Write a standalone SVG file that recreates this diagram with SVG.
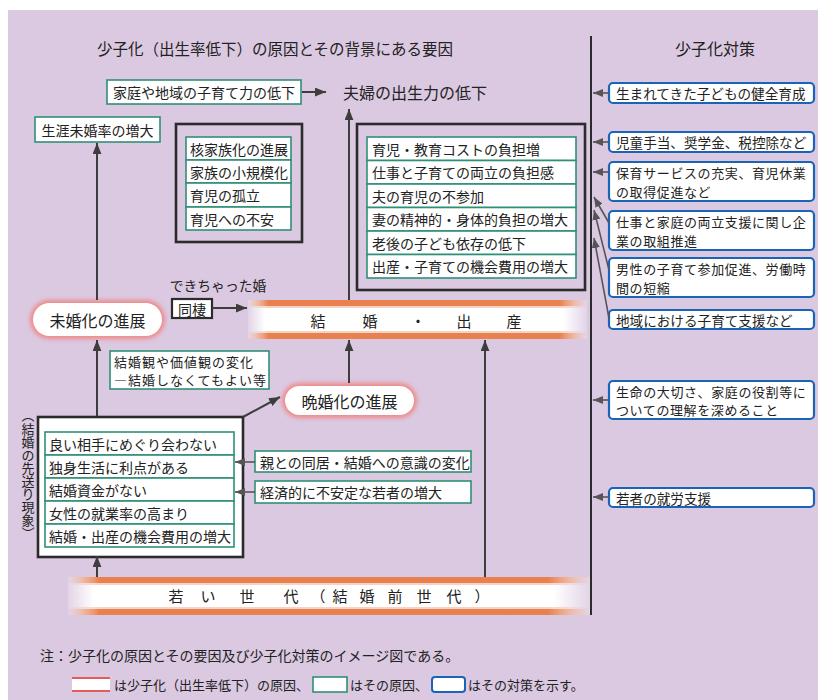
<svg xmlns="http://www.w3.org/2000/svg" width="818" height="700" viewBox="0 0 818 700">
<defs>
<style>
text{font-family:"Noto Sans CJK JP","Noto Sans CJK SC",sans-serif;fill:#222;dominant-baseline:central}
.t14{font-size:14px}
.t13{font-size:13.6px}
.m2{font-size:13px;letter-spacing:0.6px}
.g{fill:#fff;stroke:#2f8f78;stroke-width:1.6}
.b{fill:#fff;stroke:#1a64b8;stroke-width:2.2}
.k{fill:none;stroke:#2b2b2b;stroke-width:2.6}
.ar{fill:none;stroke:#3d3d3d;stroke-width:2;marker-end:url(#ah)}
.sh{fill:none;stroke:#555;stroke-width:1.6;marker-end:url(#ah2)}
</style>
<marker id="ah" viewBox="0 0 10 8" refX="10" refY="4" markerWidth="11" markerHeight="9" markerUnits="userSpaceOnUse" orient="auto"><path d="M0,0 L10,4 L0,8 z" fill="#3d3d3d"/></marker>
<marker id="ah2" viewBox="0 0 10 8" refX="10" refY="4" markerWidth="10" markerHeight="8" markerUnits="userSpaceOnUse" orient="auto"><path d="M0,0 L10,4 L0,8 z" fill="#555"/></marker>
<linearGradient id="orH" x1="0" y1="0" x2="1" y2="0">
<stop offset="0" stop-color="#e8814f" stop-opacity="0"/>
<stop offset="0.06" stop-color="#e8814f" stop-opacity="1"/>
<stop offset="0.92" stop-color="#e8814f" stop-opacity="1"/>
<stop offset="1" stop-color="#e8814f" stop-opacity="0"/>
</linearGradient>
<linearGradient id="whH" x1="0" y1="0" x2="1" y2="0">
<stop offset="0" stop-color="#fff" stop-opacity="0.2"/>
<stop offset="0.05" stop-color="#fff" stop-opacity="1"/>
<stop offset="0.93" stop-color="#fff" stop-opacity="1"/>
<stop offset="1" stop-color="#fff" stop-opacity="0.2"/>
</linearGradient>
<filter id="glow" x="-20%" y="-40%" width="140%" height="180%"><feGaussianBlur stdDeviation="2"/></filter>
</defs>

<rect x="0" y="0" width="818" height="700" fill="#fff"/>
<rect x="8" y="10" width="810" height="690" fill="#dbc9e1"/>

<g id="titles">
<text x="97" y="48" style="font-size:15.5px">少子化（出生率低下）の原因とその背景にある要因</text>
<text x="715" y="48" text-anchor="middle" style="font-size:16px">少子化対策</text>
</g>

<g id="divider"><line x1="591" y1="36" x2="591" y2="615" stroke="#2b2b2b" stroke-width="2"/></g>

<g id="n-kateichiiki">
<rect class="g" x="107" y="80" width="194" height="24"/>
<text class="t14" x="204" y="92" text-anchor="middle">家庭や地域の子育て力の低下</text>
</g>
<g id="n-fufu">
<text x="343" y="92" style="font-size:16px">夫婦の出生力の低下</text>
</g>
<g id="n-shogai">
<rect class="g" x="35" y="117" width="125" height="25"/>
<text class="t14" x="97.5" y="129.5" text-anchor="middle">生涯未婚率の増大</text>
</g>

<g id="n-kazoku">
<rect class="k" x="176" y="124" width="126" height="118"/>
<rect class="g" x="186" y="137" width="105" height="23"/>
<rect class="g" x="186" y="160" width="105" height="23"/>
<rect class="g" x="186" y="183" width="105" height="24"/>
<rect class="g" x="186" y="207" width="105" height="23"/>
<text class="t14" x="190" y="148.5">核家族化の進展</text>
<text class="t14" x="190" y="171.5">家族の小規模化</text>
<text class="t14" x="190" y="195">育児の孤立</text>
<text class="t14" x="190" y="218.5">育児への不安</text>
</g>

<g id="n-futan">
<rect class="k" x="357" y="124" width="228" height="166"/>
<rect class="g" x="367" y="137" width="209" height="23.5"/>
<rect class="g" x="367" y="160.5" width="209" height="23.5"/>
<rect class="g" x="367" y="184" width="209" height="23.5"/>
<rect class="g" x="367" y="207.5" width="209" height="23.5"/>
<rect class="g" x="367" y="231" width="209" height="23.5"/>
<rect class="g" x="367" y="254.5" width="209" height="23.5"/>
<text class="t14" x="372" y="148.7">育児・教育コストの負担増</text>
<text class="t14" x="372" y="172.2">仕事と子育ての両立の負担感</text>
<text class="t14" x="372" y="195.7">夫の育児の不参加</text>
<text class="t14" x="372" y="219.2">妻の精神的・身体的負担の増大</text>
<text class="t14" x="372" y="242.7">老後の子ども依存の低下</text>
<text class="t14" x="372" y="266.2">出産・子育ての機会費用の増大</text>
</g>

<g id="n-mikonka">
<rect x="30" y="300" width="135" height="39" rx="19.5" fill="#ee8a8a" filter="url(#glow)"/>
<rect x="33" y="303" width="129" height="33" rx="16.5" fill="#fff"/>
<text x="97.5" y="319.5" text-anchor="middle" style="font-size:16px">未婚化の進展</text>
</g>

<g id="n-dekichatta">
<text x="218" y="285" text-anchor="middle" style="font-size:13.8px">できちゃった婚</text>
<rect x="172" y="299" width="40" height="19" fill="#fff" stroke="#2b2b2b" stroke-width="2.2"/>
<text class="t14" x="192" y="308.5" text-anchor="middle">同棲</text>
</g>

<g id="n-kekkon">
<rect x="248" y="300" width="339" height="39" fill="url(#whH)"/>
<rect x="248" y="300" width="339" height="6" fill="url(#orH)"/>
<rect x="248" y="306" width="339" height="2" fill="url(#orH)" opacity="0.35"/>
<rect x="248" y="333" width="339" height="6" fill="url(#orH)"/>
<rect x="248" y="331" width="339" height="2" fill="url(#orH)" opacity="0.35"/>
<text x="318 370 418 464 514" y="320" text-anchor="middle" style="font-size:15px">結婚・出産</text>
</g>

<g id="n-kachikan">
<rect class="g" x="110" y="351" width="159" height="38"/>
<text style="font-size:13px;letter-spacing:1px"><tspan x="114" y="360.5">結婚観や価値観の変化</tspan><tspan x="114" y="379">―結婚しなくてもよい等</tspan></text>
</g>

<g id="n-bankonka">
<rect x="282" y="383" width="135" height="35" rx="17.5" fill="#ee8a8a" filter="url(#glow)"/>
<rect x="285" y="386" width="129" height="29" rx="14.5" fill="#fff"/>
<text x="349.5" y="400.5" text-anchor="middle" style="font-size:16px">晩婚化の進展</text>
</g>

<g id="n-sakiokuri">
<text x="28 28 28 28 28 28 28 28 28 28" y="414 428 441 454 467 480 493 506 519 532" text-anchor="middle" style="font-size:13px">︵結婚の先送り現象︶</text>
</g>

<g id="n-riyu">
<rect x="38" y="417" width="205" height="140" fill="#fff" stroke="#2b2b2b" stroke-width="2.6"/>
<rect class="g" x="45" y="432" width="189" height="23"/>
<rect class="g" x="45" y="455" width="189" height="23"/>
<rect class="g" x="45" y="478" width="189" height="23"/>
<rect class="g" x="45" y="501" width="189" height="23"/>
<rect class="g" x="45" y="524" width="189" height="23"/>
<text class="t14" x="49" y="443.5">良い相手にめぐり会わない</text>
<text class="t14" x="49" y="466.5">独身生活に利点がある</text>
<text class="t14" x="49" y="489.5">結婚資金がない</text>
<text class="t14" x="49" y="512.5">女性の就業率の高まり</text>
<text class="t14" x="49" y="535.5">結婚・出産の機会費用の増大</text>
</g>

<g id="n-oya">
<rect class="g" x="255" y="451" width="216" height="21"/>
<text class="t14" x="260" y="461.5">親との同居・結婚への意識の変化</text>
</g>
<g id="n-keizai">
<rect class="g" x="255" y="481" width="216" height="22"/>
<text class="t14" x="260" y="492">経済的に不安定な若者の増大</text>
</g>

<g id="n-wakai">
<rect x="68" y="577" width="522" height="38" fill="url(#whH)"/>
<rect x="68" y="577" width="522" height="6" fill="url(#orH)"/>
<rect x="68" y="583" width="522" height="2" fill="url(#orH)" opacity="0.35"/>
<rect x="68" y="609" width="522" height="6" fill="url(#orH)"/>
<rect x="68" y="607" width="522" height="2" fill="url(#orH)" opacity="0.35"/>
<text x="176 208 247 291 318 340 367 395 424 454 482" y="595" text-anchor="middle" style="font-size:15px">若い世代（結婚前世代）</text>
</g>

<g id="n-taisaku1"><rect class="b" x="609" y="83" width="205" height="20" rx="4"/><text class="t13" x="616" y="93">生まれてきた子どもの健全育成</text></g>
<g id="n-taisaku2"><rect class="b" x="609" y="132" width="205" height="20" rx="4"/><text class="t13" x="616" y="142">児童手当、奨学金、税控除など</text></g>
<g id="n-taisaku3"><rect class="b" x="609" y="162" width="205" height="39" rx="4"/><text class="m2"><tspan x="616" y="172">保育サービスの充実、育児休業</tspan><tspan x="616" y="190.8">の取得促進など</tspan></text></g>
<g id="n-taisaku4"><rect class="b" x="609" y="211" width="205" height="39" rx="4"/><text class="m2"><tspan x="616" y="221">仕事と家庭の両立支援に関し企</tspan><tspan x="616" y="239.8">業の取組推進</tspan></text></g>
<g id="n-taisaku5"><rect class="b" x="609" y="258" width="205" height="39" rx="4"/><text class="m2"><tspan x="616" y="268">男性の子育て参加促進、労働時</tspan><tspan x="616" y="286.8">間の短縮</tspan></text></g>
<g id="n-taisaku6"><rect class="b" x="609" y="310" width="205" height="19" rx="4"/><text class="t13" x="616" y="319.5">地域における子育て支援など</text></g>
<g id="n-taisaku7"><rect class="b" x="609" y="381" width="205" height="38" rx="4"/><text class="m2"><tspan x="616" y="390.5">生命の大切さ、家庭の役割等に</tspan><tspan x="616" y="409.3">ついての理解を深めること</tspan></text></g>
<g id="n-taisaku8"><rect class="b" x="609" y="488" width="205" height="19" rx="4"/><text class="t13" x="616" y="497.5">若者の就労支援</text></g>

<g id="connectors">
<line class="ar" x1="302" y1="92" x2="326" y2="92"/>
<line class="ar" x1="349" y1="300" x2="349" y2="109"/>
<line class="ar" x1="97" y1="300" x2="97" y2="143"/>
<line class="ar" x1="212" y1="308" x2="247" y2="308"/>
<line class="ar" x1="97" y1="416" x2="97" y2="340"/>
<line class="ar" x1="349" y1="383" x2="349" y2="340"/>
<line class="ar" x1="485" y1="577" x2="485" y2="340"/>
<line class="ar" x1="243" y1="417" x2="280" y2="397"/>
<line class="ar" x1="97" y1="577" x2="97" y2="556"/>
<line class="sh" x1="255" y1="462" x2="235" y2="462"/>
<line class="sh" x1="255" y1="492" x2="235" y2="492"/>
<line class="sh" x1="609" y1="93" x2="593" y2="93"/>
<line class="sh" x1="609" y1="142" x2="593" y2="142"/>
<line class="sh" x1="609" y1="172" x2="593" y2="172"/>
<line class="sh" x1="609" y1="223" x2="594" y2="197"/>
<line class="sh" x1="609" y1="270" x2="594" y2="210"/>
<line class="sh" x1="609" y1="318" x2="594" y2="238"/>
<line class="sh" x1="609" y1="400" x2="593" y2="400"/>
<line class="sh" x1="609" y1="497" x2="593" y2="497"/>
</g>

<g id="notes">
<text x="40" y="655" style="font-size:14px">注：少子化の原因とその要因及び少子化対策のイメージ図である。</text>
<rect x="72" y="677" width="38" height="15" rx="3" fill="#fff"/>
<rect x="72" y="677" width="38" height="2" fill="#e35b5b"/>
<rect x="72" y="690" width="38" height="2" fill="#e35b5b"/>
<text x="114" y="684.5" style="font-size:13px">は少子化（出生率低下）の原因、</text>
<rect x="313" y="677" width="34" height="15" fill="#fff" stroke="#2f8f78" stroke-width="1.6"/>
<text x="350" y="684.5" style="font-size:13px">はその原因、</text>
<rect x="432" y="677" width="33" height="15" rx="3" fill="#fff" stroke="#1a64b8" stroke-width="2"/>
<text x="468" y="684.5" style="font-size:13px">はその対策を示す。</text>
</g>
</svg>
